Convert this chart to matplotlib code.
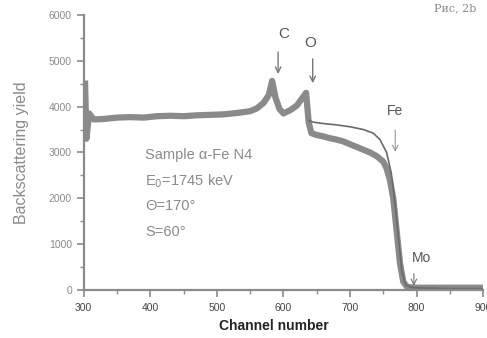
import matplotlib.pyplot as plt
from matplotlib.ticker import MultipleLocator

plt.rcParams['font.family'] = ['Liberation Sans', 'DejaVu Sans']

channel = [302, 304, 308, 315, 330, 350, 370, 390, 410, 430, 450, 470, 490,
           510, 530, 550, 560, 570, 578, 583, 588, 594, 600, 610, 620, 628,
           634, 638, 642, 650, 660, 670, 680, 690, 700, 710, 720, 730, 740,
           750, 755, 760, 765, 770, 775, 780, 785, 790, 800, 820, 850, 880, 900]
yield_exp = [4500, 3300, 3850, 3720, 3730, 3760, 3770, 3760, 3790, 3800, 3790,
             3810, 3820, 3830, 3860, 3900, 3960, 4080, 4250, 4560, 4200, 3950,
             3850, 3920, 4020, 4180, 4300, 3650, 3420, 3380, 3350, 3310, 3280,
             3240, 3180, 3120, 3060, 3000, 2920, 2800, 2650, 2400, 2000, 1300,
             600, 180, 80, 60, 50, 50, 50, 50, 50]

# simulated spectrum
channel_sim = [638, 645, 660, 680, 700, 720, 735, 745, 755, 762, 768, 773,
               778, 784, 795, 850, 900]
yield_sim = [3700, 3660, 3630, 3600, 3560, 3500, 3420, 3280, 3000, 2550,
             1850, 1100, 400, 100, 50, 30, 30]

gray = '#8a8a8a'

fig = plt.figure(figsize=(4.87, 3.38), dpi=100)
ax = fig.add_axes([0.172, 0.142, 0.82, 0.814])

ax.plot(channel, yield_exp, color=gray, lw=4.5, solid_joinstyle='round')
ax.plot(channel_sim, yield_sim, color='#6a6a6a', lw=1.2)

ax.set_xlim(300, 900)
ax.set_ylim(0, 6000)
ax.xaxis.set_major_locator(MultipleLocator(100))
ax.xaxis.set_minor_locator(MultipleLocator(50))
ax.yaxis.set_major_locator(MultipleLocator(1000))
ax.yaxis.set_minor_locator(MultipleLocator(500))
for s in ['top', 'right']:
    ax.spines[s].set_visible(False)
for s in ['left', 'bottom']:
    ax.spines[s].set_color(gray)
    ax.spines[s].set_linewidth(1.6)
ax.tick_params(which='both', direction='out', colors=gray, labelsize=7.5)
ax.tick_params(which='major', length=5, width=1.2)
ax.tick_params(which='minor', length=3, width=1)
ax.tick_params(axis='x', labelcolor='#444444', pad=4)

ax.set_xlabel('Channel number', fontsize=10, fontweight='bold', color='#222222',
              labelpad=5, x=0.476)
ax.set_ylabel('Backscattering yield', fontsize=11.5, color=gray, labelpad=14)

# element markers
arrow = dict(arrowstyle='->', color='#777777', lw=1)
ax.text(600, 5580, 'C', ha='center', va='center', fontsize=11, color='#555555')
ax.annotate('', xy=(592, 4650), xytext=(592, 5250), arrowprops=arrow)
ax.text(640, 5380, 'O', ha='center', va='center', fontsize=11, color='#555555')
ax.annotate('', xy=(644, 4450), xytext=(644, 5100), arrowprops=arrow)
ax.text(768, 3900, 'Fe', ha='center', va='center', fontsize=10, color='#555555')
ax.annotate('', xy=(768, 2950), xytext=(768, 3550),
            arrowprops=dict(arrowstyle='->', color='#999999', lw=0.8))
ax.text(807, 700, 'Mo', ha='center', va='center', fontsize=10, color='#555555')
ax.annotate('', xy=(796, 30), xytext=(796, 420),
            arrowprops=dict(arrowstyle='->', color='#777777', lw=0.8))

ax.text(392, 2950, 'Sample \u03b1-Fe N4', fontsize=10.5, color=gray, va='center')
ax.text(392, 2380, 'E$_0$=1745 keV', fontsize=10.5, color=gray, va='center')
ax.text(392, 1830, '\u0398=170\u00b0', fontsize=10.5, color=gray, va='center')
ax.text(392, 1260, 'S=60\u00b0', fontsize=10.5, color=gray, va='center')

fig.text(0.935, 0.975, '\u0420\u0438\u0441, 2b', fontsize=8, color='#888888',
         ha='center', va='center', family='DejaVu Serif')

plt.savefig('out.png', dpi=100)
